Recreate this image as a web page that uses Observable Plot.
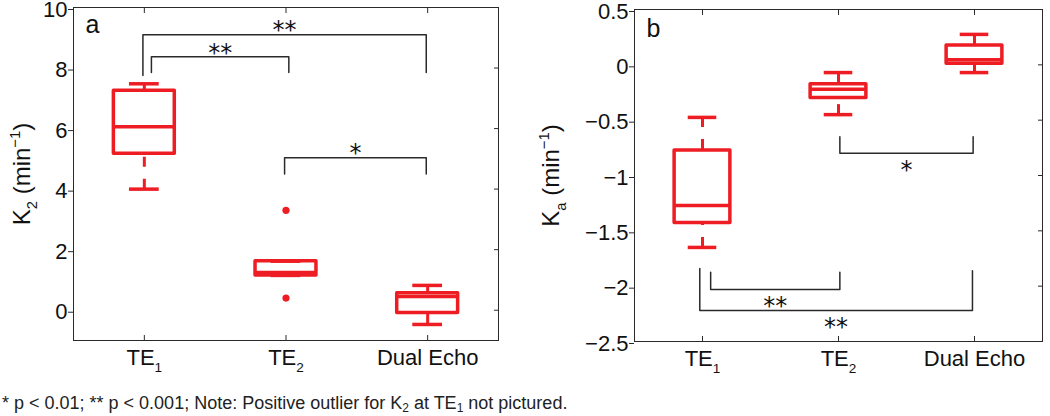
<!DOCTYPE html>
<html>
<head>
<meta charset="utf-8">
<script src="https://cdn.jsdelivr.net/npm/d3@7"></script>
<script src="https://cdn.jsdelivr.net/npm/@observablehq/plot@0.6"></script>
<style>
  html, body { margin: 0; padding: 0; background: #fff; }
  #wrap { position: relative; width: 1050px; height: 416px; overflow: hidden; font-family: "Liberation Sans", Arial, sans-serif; }
  #panels { display: flex; position: absolute; left: 0; top: 0; }
  #caption { position: absolute; left: 2px; top: 393px; font-family: "Liberation Sans Narrow", "Liberation Sans", sans-serif; font-size: 18px; line-height: 20px; color: #222; white-space: nowrap; }
  #caption sub { font-size: 12px; vertical-align: -3px; line-height: 0; }
</style>
</head>
<body>
<div id="wrap">
  <div id="panels"></div>
  <div id="caption"></div>
</div>
<script>
// ---------------- data ----------------
const categories = ["TE_{1}", "TE_{2}", "Dual Echo"];
const groupIndex = [1, 2, 3];

// Panel a: K2 (min^-1)
const k2Lower  = [4.00, 1.15, -0.47];
const k2Q1     = [5.17, 1.15, -0.09];
const k2Median = [6.06, 1.25,  0.45];
const k2Q3     = [7.25, 1.62,  0.56];
const k2Upper  = [7.48, 1.62,  0.82];
const k2OutlierGroup = [2, 2];
const k2OutlierValue = [3.30, 0.40];
const k2Ticks = [0, 2, 4, 6, 8, 10];
const k2TickLabels = ["0", "2", "4", "6", "8", "10"];

// Panel b: Ka (min^-1)
const kaLower  = [-1.65, -0.45, -0.07];
const kaQ1     = [-1.43, -0.30,  0.01];
const kaMedian = [-1.27, -0.22,  0.045];
const kaQ3     = [-0.775, -0.175, 0.175];
const kaUpper  = [-0.475, -0.07,  0.275];
const kaTicks = [-2.5, -2, -1.5, -1, -0.5, 0, 0.5];
const kaTickLabels = ["\u22122.5", "\u22122", "\u22121.5", "\u22121", "\u22120.5", "0", "0.5"];

// Significance brackets (x from / to, bracket level, leg ends, label)
const sigA_x1 = [0.99, 1.05, 1.99];
const sigA_x2 = [2.99, 2.02, 2.99];
const sigA_level = [9.10, 8.37, 5.04];
const sigA_leg1 = [7.75, 7.85, 4.50];
const sigA_leg2 = [7.85, 7.85, 4.50];
const sigA_label = ["**", "**", "*"];

const sigB_x1 = [2.01, 1.06, 0.98];
const sigB_x2 = [2.99, 2.01, 2.985];
const sigB_level = [-0.80, -2.03, -2.22];
const sigB_leg1 = [-0.65, -1.875, -1.84];
const sigB_leg2 = [-0.65, -1.875, -1.86];
const sigB_label = ["*", "**", "**"];

const yLabelA = "K_{2} (min^{\u22121})";
const yLabelB = "K_{a} (min^{\u22121})";
const panelLabels = ["a", "b"];
const captionText = "* p < 0.01; ** p < 0.001; Note: Positive outlier for K_{2} at TE_{1} not pictured.";

// ---------------- helpers ----------------
const RED = "#ee1d24";
const INK = "#2a2a2a";
const FONT = "Liberation Sans, Arial, Helvetica, sans-serif";

function boxRows(lower, q1, med, q3, upper) {
  return groupIndex.map((g, i) => ({g, lower: lower[i], q1: q1[i], med: med[i], q3: q3[i], upper: upper[i]}));
}
function bracketPoints(x1, x2, level, leg1, leg2) {
  const pts = [];
  x1.forEach((_, i) => {
    pts.push({k: i, x: x1[i], y: leg1[i]});
    pts.push({k: i, x: x1[i], y: level[i]});
    pts.push({k: i, x: x2[i], y: level[i]});
    pts.push({k: i, x: x2[i], y: leg2[i]});
  });
  return pts;
}
function bracketLabels(x1, x2, level, label) {
  return label.map((t, i) => ({x: (x1[i] + x2[i]) / 2, y: level[i], t}));
}

function panel({rows, outliers, ticks, tickLabels, yDomain, brackets, bLabels, starDy, yLabel, yLabelDx, pLabel, pLabelDy,
                width, height, mt, mb, ml, mr, half}) {
  const labelOf = new Map(ticks.map((t, i) => [t, tickLabels[i]]));
  const capHalf = 0.105;
  const marks = [
    Plot.frame({stroke: INK, strokeWidth: 1}),
    // ticks: left outward with labels, others inward
    Plot.axisY({ticks, anchor: "left", tickSize: 5, tickPadding: 1, fontSize: 22, stroke: INK, fill: "#111", dy: 2,
                tickFormat: d => labelOf.get(d), label: null}),
    Plot.axisY({ticks, anchor: "right", tickSize: -5, tickFormat: () => "", stroke: INK, label: null}),
    Plot.axisX({ticks: groupIndex, anchor: "bottom", tickSize: -5, tickFormat: () => "", stroke: INK, label: null}),
    Plot.axisX({ticks: groupIndex, anchor: "top", tickSize: -5, tickFormat: () => "", stroke: INK, label: null}),
    Plot.axisX({ticks: groupIndex, anchor: "bottom", tickSize: 0, tickPadding: 9, fontSize: 22, fill: "#111",
                tickFormat: d => categories[d - 1], label: null}),
    // significance brackets
    Plot.line(brackets, {x: "x", y: "y", z: "k", stroke: INK, strokeWidth: 1.5}),
    Plot.text(bLabels, {x: "x", y: "y", text: "t", dy: starDy, fontSize: 24, fontFamily: "DejaVu Sans, sans-serif", fill: "#111"}),
    // whiskers (dashed)
    Plot.ruleX(rows, {x: "g", y1: "lower", y2: "q1", stroke: RED, strokeWidth: 3, strokeDasharray: "10,12"}),
    Plot.ruleX(rows, {x: "g", y1: "upper", y2: "q3", stroke: RED, strokeWidth: 3, strokeDasharray: "10,12"}),
    // whisker caps
    Plot.ruleY(rows, {y: "lower", x1: d => d.g - capHalf, x2: d => d.g + capHalf, stroke: RED, strokeWidth: 3.5}),
    Plot.ruleY(rows, {y: "upper", x1: d => d.g - capHalf, x2: d => d.g + capHalf, stroke: RED, strokeWidth: 3.5}),
    // boxes
    Plot.rect(rows, {x1: d => d.g - half, x2: d => d.g + half, y1: "q1", y2: "q3", stroke: RED, strokeWidth: 3.5, fill: "none", strokeLinejoin: "round"}),
    Plot.ruleY(rows, {y: "med", x1: d => d.g - half, x2: d => d.g + half, stroke: RED, strokeWidth: 3.5}),
    // outliers
    Plot.dot(outliers, {x: "g", y: "v", r: 3.6, fill: RED, stroke: "none"}),
    // panel letter
    Plot.text([pLabel], {frameAnchor: "top-left", text: d => d, dx: 12, dy: pLabelDy, lineAnchor: "top", textAnchor: "start", fontSize: 25, fill: "#111"}),
    // y label
    Plot.text([yLabel], {frameAnchor: "left", text: d => d, dx: yLabelDx, rotate: -90, textAnchor: "middle", lineAnchor: "middle", fontSize: 24, fill: "#111"})
  ];
  return Plot.plot({
    width, height, marginTop: mt, marginBottom: mb, marginLeft: ml, marginRight: mr,
    style: {fontFamily: FONT, background: "transparent", overflow: "visible"},
    x: {type: "linear", domain: [0.5, 3.5]},
    y: {type: "linear", domain: yDomain},
    marks
  });
}

// turn _{..} / ^{..} markup into sub/superscript tspans (baseline-shift keeps one text chunk)
function richText(root) {
  const ns = "http://www.w3.org/2000/svg";
  root.querySelectorAll("text").forEach(el => {
    const s = el.textContent;
    if (!/[_^]\{/.test(s)) return;
    const fs = parseFloat(getComputedStyle(el).fontSize) || 22;
    while (el.firstChild) el.removeChild(el.firstChild);
    const re = /([_^])\{([^}]*)\}|([^_^]+)/g;
    let m;
    while ((m = re.exec(s))) {
      const t = document.createElementNS(ns, "tspan");
      if (m[1] === "_") {
        t.setAttribute("font-size", (0.62 * fs).toFixed(1));
        t.setAttribute("baseline-shift", (-0.3 * fs).toFixed(1));
        t.textContent = m[2];
      } else if (m[1] === "^") {
        t.setAttribute("font-size", (0.62 * fs).toFixed(1));
        t.setAttribute("baseline-shift", (0.42 * fs).toFixed(1));
        t.textContent = m[2];
      } else {
        t.textContent = m[3];
      }
      el.appendChild(t);
    }
  });
}

// ---------------- build ----------------
const panels = document.getElementById("panels");

const plotA = panel({
  rows: boxRows(k2Lower, k2Q1, k2Median, k2Q3, k2Upper),
  outliers: k2OutlierGroup.map((g, i) => ({g, v: k2OutlierValue[i]})),
  ticks: k2Ticks, tickLabels: k2TickLabels, yDomain: [-1, 10],
  brackets: bracketPoints(sigA_x1, sigA_x2, sigA_level, sigA_leg1, sigA_leg2),
  bLabels: bracketLabels(sigA_x1, sigA_x2, sigA_level, sigA_label),
  starDy: -4,
  yLabel: yLabelA, yLabelDx: -51, pLabel: panelLabels[0], pLabelDy: 8,
  width: 520, height: 385, mt: 7, mb: 45, ml: 73, mr: 22, half: 0.215
});
const plotB = panel({
  rows: boxRows(kaLower, kaQ1, kaMedian, kaQ3, kaUpper),
  outliers: [],
  ticks: kaTicks, tickLabels: kaTickLabels, yDomain: [-2.5, 0.5],
  brackets: bracketPoints(sigB_x1, sigB_x2, sigB_level, sigB_leg1, sigB_leg2),
  bLabels: bracketLabels(sigB_x1, sigB_x2, sigB_level, sigB_label),
  starDy: 17,
  yLabel: yLabelB, yLabelDx: -83, pLabel: panelLabels[1], pLabelDy: 10,
  width: 530, height: 385, mt: 9, mb: 44, ml: 114, mr: 8, half: 0.205
});
panels.appendChild(plotA);
panels.appendChild(plotB);
richText(plotA);
richText(plotB);

// caption with HTML subscripts
const cap = document.getElementById("caption");
captionText.split(/(_\{[^}]*\})/).forEach(part => {
  const m = part.match(/^_\{([^}]*)\}$/);
  if (m) { const s = document.createElement("sub"); s.textContent = m[1]; cap.appendChild(s); }
  else cap.appendChild(document.createTextNode(part));
});
</script>
</body>
</html>
